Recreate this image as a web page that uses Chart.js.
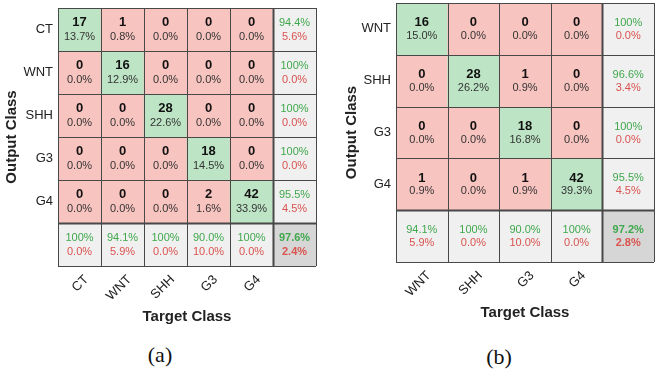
<!DOCTYPE html>
<html>
<head>
<meta charset="utf-8">
<script src="https://cdn.jsdelivr.net/npm/chart.js@4.4.0/dist/chart.umd.min.js"></script>
<style>
    body { margin: 0; background: #fff; width: 656px; height: 371px; position: relative; overflow: hidden; }
    .panel { position: absolute; }
    .caption { position: absolute; font-family: "Liberation Serif", "Times New Roman", serif; font-size: 22px; color: #111; transform: translate(-50%, -50%); }
</style>
</head>
<body>
<div class="panel" style="left:0;top:0;width:330px;height:330px"><canvas id="cmA"></canvas></div>
<div class="panel" style="left:330px;top:0;width:326px;height:330px"><canvas id="cmB"></canvas></div>
<div class="caption" style="left:160px;top:355px">(a)</div>
<div class="caption" style="left:499px;top:357px">(b)</div>
<script>
// classes and counts (rows = output class, cols = target class)
const clasesA = ["CT", "WNT", "SHH", "G3", "G4"];
const matrizA = [
    [17, 1, 0, 0, 0],
    [0, 16, 0, 0, 0],
    [0, 0, 28, 0, 0],
    [0, 0, 0, 18, 0],
    [0, 0, 0, 2, 42]
];

const clasesB = ["WNT", "SHH", "G3", "G4"];
const matrizB = [
    [16, 0, 0, 0],
    [0, 28, 1, 0],
    [0, 0, 18, 0],
    [1, 0, 1, 42]
];

const VERDE = "#bde5c5";
const ROJO = "#f8c4c0";
const GRIS = "#f0f0f0";
const GRIS_OSCURO = "#d6d6d6";
const TXT_VERDE = "#3fa84c";
const TXT_ROJO = "#d9534f";
const FUENTE = "'Liberation Sans', Arial, sans-serif";

function fmt(p) {
    return p === 100 ? "100%" : p.toFixed(1) + "%";
}

function crearMatriz(canvasId, clases, matriz, cfg) {
    const n = clases.length;
    const total = matriz.flat().reduce((a, b) => a + b, 0);
    const filasSum = matriz.map(f => f.reduce((a, b) => a + b, 0));
    const colsSum = clases.map((_, c) => matriz.reduce((a, f) => a + f[c], 0));
    const aciertos = matriz.reduce((a, f, i) => a + f[i], 0);

    // one stacked dataset per row (plus summary row), each cell height 1
    const datasets = [];
    for (let r = 0; r <= n; r++) {
        const colores = [];
        for (let c = 0; c <= n; c++) {
            if (r === n && c === n) colores.push(GRIS_OSCURO);
            else if (r === n || c === n) colores.push(GRIS);
            else colores.push(r === c ? VERDE : ROJO);
        }
        datasets.push({
            data: new Array(n + 1).fill(1),
            backgroundColor: colores,
            borderWidth: 0,
            barPercentage: 1,
            categoryPercentage: 1
        });
    }

    const rejilla = {
        id: "rejilla",
        afterDatasetsDraw(chart) {
            const ctx = chart.ctx;
            const xs = chart.scales.x;
            const ys = chart.scales.y;
            ctx.save();
            // texts
            ctx.textAlign = "center";
            ctx.textBaseline = "middle";
            for (let r = 0; r <= n; r++) {
                for (let c = 0; c <= n; c++) {
                    const cx = xs.getPixelForValue(c);
                    const cy = ys.getPixelForValue(r + 0.5);
                    let arriba, abajo, negrita = false;
                    if (r < n && c < n) {
                        ctx.font = "bold 13px " + FUENTE;
                        ctx.fillStyle = "#111";
                        ctx.fillText(String(matriz[r][c]), cx, cy + cfg.dy1);
                        ctx.font = "11px " + FUENTE;
                        ctx.fillStyle = "#333";
                        ctx.fillText(fmt(matriz[r][c] / total * 100), cx, cy + cfg.dy2);
                        continue;
                    }
                    if (r < n) {
                        const p = filasSum[r] ? matriz[r][r] / filasSum[r] * 100 : 0;
                        arriba = p; abajo = 100 - p;
                    } else if (c < n) {
                        const p = colsSum[c] ? matriz[c][c] / colsSum[c] * 100 : 0;
                        arriba = p; abajo = 100 - p;
                    } else {
                        const p = aciertos / total * 100;
                        arriba = p; abajo = 100 - p; negrita = true;
                    }
                    ctx.font = (negrita ? "bold " : "") + "11px " + FUENTE;
                    ctx.fillStyle = TXT_VERDE;
                    ctx.fillText(fmt(arriba), cx, cy + cfg.dy1);
                    ctx.fillStyle = TXT_ROJO;
                    ctx.fillText(fmt(abajo), cx, cy + cfg.dy2);
                }
            }
            // cell lines
            const izq = xs.getPixelForValue(-0.5);
            const der = xs.getPixelForValue(n + 0.5);
            const sup = ys.getPixelForValue(0);
            const inf = ys.getPixelForValue(n + 1);
            ctx.strokeStyle = "#484848";
            for (let i = 0; i <= n + 1; i++) {
                const x = Math.round(xs.getPixelForValue(i - 0.5)) + 0.5;
                ctx.lineWidth = i === n ? 2 : 1;
                ctx.beginPath();
                ctx.moveTo(x, sup);
                ctx.lineTo(x, inf);
                ctx.stroke();
            }
            for (let j = 0; j <= n + 1; j++) {
                const y = Math.round(ys.getPixelForValue(j)) + 0.5;
                ctx.lineWidth = j === n ? 2 : 1;
                ctx.beginPath();
                ctx.moveTo(izq, y);
                ctx.lineTo(der, y);
                ctx.stroke();
            }
            ctx.restore();
        }
    };

    return new Chart(document.getElementById(canvasId), {
        type: "bar",
        data: { labels: [...clases, ""], datasets: datasets },
        options: {
            responsive: true,
            maintainAspectRatio: false,
            animation: false,
            layout: { padding: cfg.padding },
            plugins: { legend: { display: false }, tooltip: { enabled: false } },
            scales: {
                x: {
                    type: "category",
                    stacked: true,
                    offset: true,
                    grid: { display: false, drawTicks: false },
                    border: { display: false },
                    ticks: {
                        minRotation: 45,
                        maxRotation: 45,
                        padding: 6,
                        labelOffset: 7,
                        color: "#222",
                        font: { family: FUENTE, size: 13 }
                    },
                    title: {
                        display: true,
                        text: "Target Class",
                        color: "#222",
                        padding: { top: 4, bottom: cfg.xTitlePad },
                        font: { family: FUENTE, size: 15, weight: "bold" }
                    },
                    afterFit: (s) => {
                        s.height = cfg.xAltura;
                        s.paddingLeft = 0;
                        s.paddingRight = 0;
                    }
                },
                y: {
                    type: "linear",
                    stacked: true,
                    reverse: true,
                    min: 0,
                    max: n + 1,
                    grid: { display: false, drawTicks: false },
                    border: { display: false },
                    afterBuildTicks: (s) => {
                        s.ticks = [...clases, ""].map((_, i) => ({ value: i + 0.5 }));
                    },
                    ticks: {
                        padding: 5,
                        color: "#222",
                        font: { family: FUENTE, size: 13 },
                        callback: (v, i) => i < n ? clases[i] : ""
                    },
                    title: {
                        display: true,
                        text: "Output Class",
                        color: "#222",
                        padding: { top: cfg.yTitlePad, bottom: 4 },
                        font: { family: FUENTE, size: 15, weight: "bold" }
                    },
                    afterFit: (s) => {
                        s.width = cfg.yAncho;
                        s.paddingTop = 0;
                        s.paddingBottom = 0;
                    }
                }
            }
        },
        plugins: [rejilla]
    });
}

crearMatriz("cmA", clasesA, matrizA, {
    padding: { left: 0, top: 8, right: 14, bottom: 0 },
    yAncho: 58, xAltura: 64, xTitlePad: 4, yTitlePad: 3,
    dy1: -7, dy2: 7
});

crearMatriz("cmB", clasesB, matrizB, {
    padding: { left: 0, top: 3, right: 2, bottom: 0 },
    yAncho: 66, xAltura: 68, xTitlePad: 8, yTitlePad: 13,
    dy1: -6, dy2: 7
});
</script>
</body>
</html>
